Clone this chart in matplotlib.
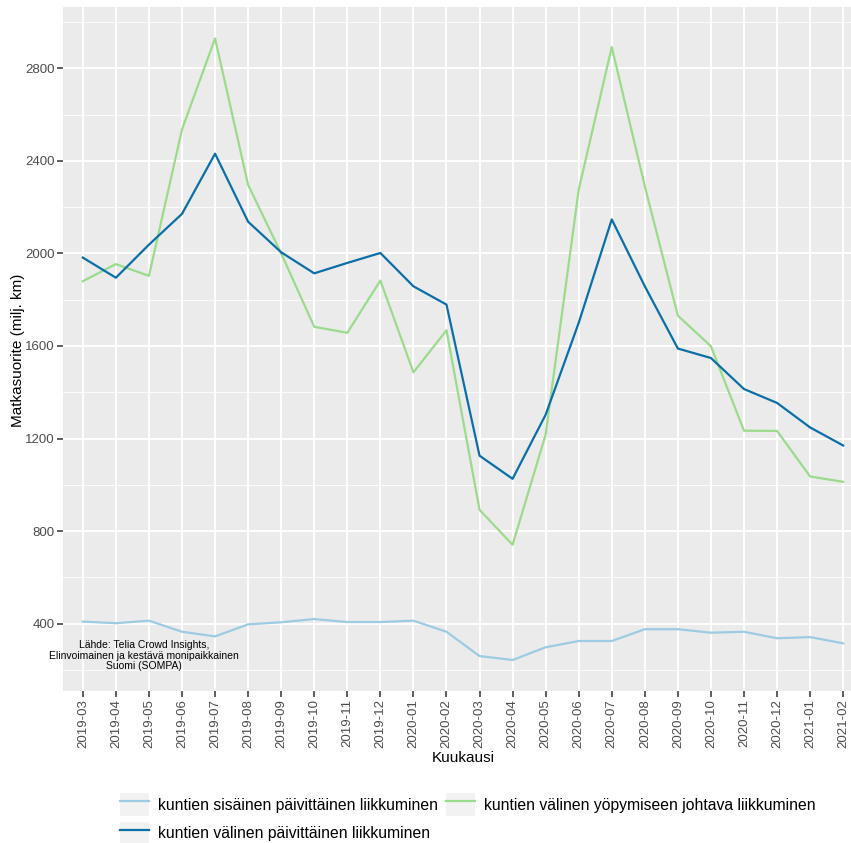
import matplotlib
matplotlib.use("Agg")
import matplotlib.pyplot as plt
from matplotlib.ticker import MultipleLocator
from matplotlib.patches import Patch
from matplotlib.legend_handler import HandlerTuple

plt.rcParams['font.family'] = ['Liberation Sans', 'DejaVu Sans']

months = ['2019-03', '2019-04', '2019-05', '2019-06', '2019-07', '2019-08',
          '2019-09', '2019-10', '2019-11', '2019-12', '2020-01', '2020-02',
          '2020-03', '2020-04', '2020-05', '2020-06', '2020-07', '2020-08',
          '2020-09', '2020-10', '2020-11', '2020-12', '2021-01', '2021-02']

sisainen_paiv = [409, 402, 413, 365, 345, 397, 406, 420, 407, 407, 413, 365,
                 260, 243, 298, 325, 325, 376, 376, 361, 365, 337, 342, 315]
valinen_paiv = [1982, 1895, 2038, 2171, 2431, 2137, 2005, 1914, 1959, 2002, 1858, 1779,
                1126, 1026, 1303, 1700, 2147, 1858, 1589, 1548, 1414, 1354, 1248, 1170]
valinen_yopy = [1880, 1954, 1903, 2536, 2929, 2296, 2000, 1683, 1657, 1883, 1486, 1668,
                892, 741, 1217, 2275, 2892, 2290, 1731, 1599, 1234, 1233, 1036, 1013]

labels = ['kuntien sisäinen päivittäinen liikkuminen',
          'kuntien välinen päivittäinen liikkuminen',
          'kuntien välinen yöpymiseen johtava liikkuminen']
colors = ['#9CCBE2', '#0A6FA8', '#9ADB8C']

fig = plt.figure(figsize=(8.51, 8.43), dpi=100)
# panel runs past the right edge of the picture, as in the original crop
ax = fig.add_axes([63 / 851, 1 - 691 / 843, 800 / 851, 684 / 843])
ax.set_facecolor('#EBEBEB')
for s in ax.spines.values():
    s.set_visible(False)

x = list(range(len(months)))
l1, = ax.plot(x, sisainen_paiv, color=colors[0], lw=1.6)
l3, = ax.plot(x, valinen_yopy, color=colors[2], lw=1.6)
l2, = ax.plot(x, valinen_paiv, color=colors[1], lw=1.6)

ax.set_xlim(-0.6, len(months) - 0.4)
ax.set_ylim(109, 3065)
ax.set_xticks(x)
ax.set_xticklabels(months, rotation=90)
ax.yaxis.set_major_locator(MultipleLocator(400))
ax.yaxis.set_minor_locator(MultipleLocator(200))
ax.grid(which='major', color='white', lw=1.3)
ax.grid(which='minor', axis='y', color='white', lw=0.6)
ax.set_axisbelow(True)
ax.tick_params(which='major', length=4, width=1.1, color='#333333',
               labelsize=9.5, labelcolor='#4D4D4D', pad=2)
ax.tick_params(which='minor', length=0)

ax.set_xlabel('Kuukausi', fontsize=11, labelpad=2)
fig.text(18 / 851, 1 - 350 / 843, 'Matkasuorite (milj. km)', rotation=90,
         ha='center', va='center', fontsize=11)

ax.text(1.85, 262, 'Lähde: Telia Crowd Insights,\nElinvoimainen ja kestävä monipaikkainen\nSuomi (SOMPA)',
        ha='center', va='center', fontsize=7.5, linespacing=1.1)

# legend keys with the light grey key background
key_bg = Patch(facecolor='#F2F2F2', edgecolor='none')
handles = [(key_bg, l1), (key_bg, l2), (key_bg, l3)]
leg = fig.legend(handles, labels, ncol=2, loc='center',
                 bbox_to_anchor=(0.55, 1 - 819 / 843), frameon=False,
                 fontsize=11.3, handlelength=1.85, handleheight=1.9,
                 columnspacing=0.5, labelspacing=0.35, handletextpad=0.57,
                 borderpad=0.2,
                 handler_map={tuple: HandlerTuple(ndivide=1, pad=0)})

fig.savefig('out.png', dpi=100)
